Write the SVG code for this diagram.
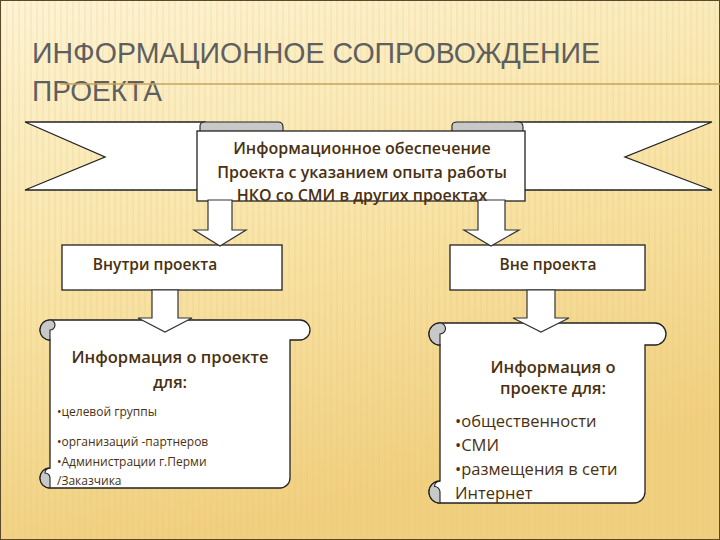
<svg xmlns="http://www.w3.org/2000/svg" width="720" height="540" viewBox="0 0 720 540">
<defs>
<linearGradient id="bg" x1="0" y1="0" x2="0.3" y2="1">
<stop offset="0" stop-color="#fdf4d6"/><stop offset="0.5" stop-color="#f8e4a8"/><stop offset="1" stop-color="#f0cf7e"/>
</linearGradient>
<pattern id="str" width="6" height="540" patternUnits="userSpaceOnUse">
<rect x="0" y="0" width="2" height="540" fill="#e8c070" opacity="0.18"/>
</pattern>
<style>
.s{fill:#fff;stroke:#222;stroke-width:1.3}
.g{fill:#c8c8c8;stroke:#222;stroke-width:1.1}
.t{font-family:"Open Sans","Liberation Sans",sans-serif;fill:#4a3010;font-weight:600;text-anchor:middle}
.b{font-family:"Open Sans","Liberation Sans",sans-serif;fill:#4a3010}
.a{fill:#fff;stroke:#333;stroke-width:1.2}
</style>
</defs>
<rect width="720" height="540" fill="url(#bg)"/>
<rect width="720" height="540" fill="url(#str)"/>
<rect x="0" y="0" width="720" height="540" fill="none" stroke="#5a4a2a" stroke-width="2"/>
<g id="title" font-family="'Liberation Sans',sans-serif" font-size="30" fill="#5f5f5f">
<text x="32" y="63" textLength="568" lengthAdjust="spacingAndGlyphs">ИНФОРМАЦИОННОЕ  СОПРОВОЖДЕНИЕ</text>
<text x="32" y="101" textLength="130" lengthAdjust="spacingAndGlyphs">ПРОЕКТА</text>
<line x1="60" y1="84" x2="720" y2="84" stroke="#c9a35a" stroke-width="1.5"/>
</g>
<g id="banner">
<path class="s" d="M25 122 H205 V190 H25 L105 157 Z"/>
<path class="s" d="M712 122 H515 V190 H712 L625 157 Z"/>
<path class="g" d="M200 133 V126 Q200 122 205 122 H278 Q283 122 283 127 V133 Z"/>
<path class="g" d="M452 133 V126 Q452 122 457 122 H518 Q523 122 523 127 V133 Z"/>
<rect class="s" x="197" y="131" width="328" height="70"/>
</g>
<g id="inside">
<rect class="s" x="62" y="245" width="220" height="45"/>
<text class="t" font-size="15.5" x="155" y="270">Внутри проекта</text>
</g>
<g id="outside">
<rect class="s" x="450" y="245" width="195" height="45"/>
<text class="t" font-size="15.5" x="548" y="270">Вне проекта</text>
</g>
<g id="scrollL">
<path class="s" d="M50 320 H300 A10 10 0 0 1 300 340 H290 V478 A10 10 0 0 1 280 488 H50 A10 10 0 0 1 40 478 A10 10 0 0 1 50 468 V340 A10 10 0 0 1 50 320 Z"/>
<path class="g" d="M50 340 A10 10 0 0 1 50 320 A5 5 0 0 1 50 330 Z"/>
<path class="g" d="M50 468 A10 10 0 0 0 40 478 A10 10 0 0 0 50 488 V478 A5 5 0 0 0 45 473 A5 5 0 0 1 50 468 Z"/>
<text class="t" font-size="16.5" x="170" y="363">Информация о проекте</text>
<text class="t" font-size="16.5" x="170" y="388">для:</text>
<g class="b" font-size="12">
<text x="57" y="416">•целевой группы</text>
<text x="57" y="446">•организаций -партнеров</text>
<text x="57" y="466">•Администрации г.Перми</text>
<text x="57" y="485">/Заказчика</text>
</g>
</g>
<g id="scrollR">
<path class="s" d="M440 323 H655 A11 11 0 0 1 655 345 H645 V492 A11 11 0 0 1 634 503 H440 A11 11 0 0 1 429 492 A11 11 0 0 1 440 481 V345 A11 11 0 0 1 440 323 Z"/>
<path class="g" d="M440 345 A11 11 0 0 1 440 323 A5.5 5.5 0 0 1 440 334 Z"/>
<path class="g" d="M440 481 A11 11 0 0 0 429 492 A11 11 0 0 0 440 503 V492 A5.5 5.5 0 0 0 434.5 486.5 A5.5 5.5 0 0 1 440 481 Z"/>
<text class="t" font-size="16.5" x="553" y="373">Информация о</text>
<text class="t" font-size="16.5" x="553" y="394">проекте для:</text>
<g class="b" font-size="16.5">
<text x="455" y="427">•общественности</text>
<text x="455" y="451">•СМИ</text>
<text x="455" y="475">•размещения в сети</text>
<text x="455" y="499">Интернет</text>
</g>
</g>
<g id="connectors">
<path class="a" d="M208 200 H232 V230 H246 L220 246 L194 230 H208 Z"/>
<path class="a" d="M478 200 H505 V230 H519 L491 246 L464 230 H478 Z"/>
<path class="a" d="M152 290 H178 V318 H192 L165 332 L138 318 H152 Z"/>
<path class="a" d="M527 290 H555 V318 H569 L541 332 L513 318 H527 Z"/>
</g>
<g id="bannerText">
<text class="t" font-size="16" x="362" y="154">Информационное обеспечение</text>
<text class="t" font-size="16" x="362" y="178">Проекта  с указанием опыта работы</text>
<text class="t" font-size="16" x="362" y="201">НКО  со СМИ в других проектах</text>
</g>
</svg>
